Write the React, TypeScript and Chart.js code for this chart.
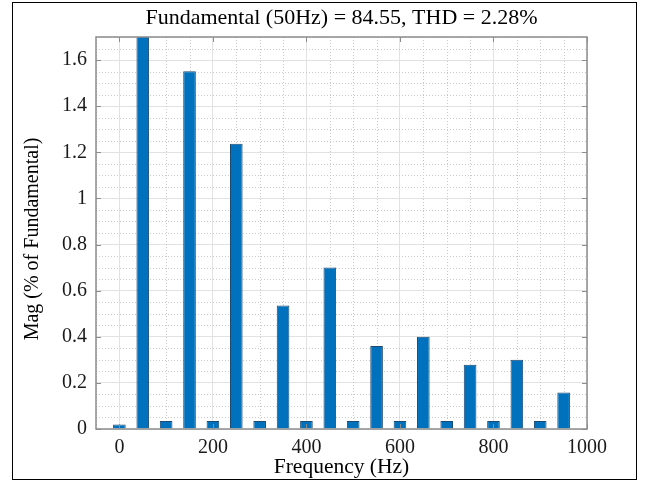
import React, { useEffect, useRef } from "react";
import { Chart, registerables } from "chart.js";

Chart.register(...registerables);

const frequencies = [0, 50, 100, 150, 200, 250, 300, 350, 400, 450, 500, 550, 600, 650, 700, 750, 800, 850, 900, 950];
const magnitudes = [0.02, 100, 0.035, 1.552, 0.035, 1.237, 0.035, 0.536, 0.035, 0.7, 0.035, 0.36, 0.035, 0.4, 0.035, 0.279, 0.035, 0.3, 0.035, 0.158];
const xTickValues = [0, 200, 400, 600, 800, 1000];
const yTickValues = [0, 0.2, 0.4, 0.6, 0.8, 1, 1.2, 1.4, 1.6];
const yTickLabels = ["0", "0.2", "0.4", "0.6", "0.8", "1", "1.2", "1.4", "1.6"];
const titleText = "Fundamental (50Hz) = 84.55, THD = 2.28%";
const xLabelText = "Frequency (Hz)";
const yLabelText = "Mag (% of Fundamental)";

const FONT = '"Liberation Serif", "Times New Roman", serif';

const decor = {
  id: "decor",
  beforeDatasetsDraw(chart: any) {
    const { ctx, chartArea: a, scales } = chart;
    const x = scales.x;
    const y = scales.y;
    ctx.save();
    ctx.strokeStyle = "#c9c9c9";
    ctx.lineWidth = 1;
    ctx.setLineDash([1, 2]);
    for (let v = -50; v <= 1000; v += 50) {
      if (v % 200 === 0) continue;
      const px = Math.round(x.getPixelForValue(v)) + 0.5;
      ctx.beginPath();
      ctx.moveTo(px, a.top);
      ctx.lineTo(px, a.bottom);
      ctx.stroke();
    }
    for (let k = 1; k <= 34; k++) {
      if (k % 4 === 0) continue;
      const py = Math.round(y.getPixelForValue(k * 0.05)) + 0.5;
      ctx.beginPath();
      ctx.moveTo(a.left, py);
      ctx.lineTo(a.right, py);
      ctx.stroke();
    }
    ctx.restore();
  },
  afterDatasetsDraw(chart: any) {
    const { ctx, chartArea: a, scales } = chart;
    const x = scales.x;
    const y = scales.y;
    ctx.save();
    ctx.strokeStyle = "#8c8c8c";
    ctx.lineWidth = 1.5;
    ctx.strokeRect(a.left, a.top, a.right - a.left, a.bottom - a.top);
    ctx.lineWidth = 1;
    const tl = 5;
    for (const v of xTickValues) {
      const px = Math.round(x.getPixelForValue(v)) + 0.5;
      ctx.beginPath();
      ctx.moveTo(px, a.bottom);
      ctx.lineTo(px, a.bottom - tl);
      ctx.moveTo(px, a.top);
      ctx.lineTo(px, a.top + tl);
      ctx.stroke();
    }
    for (const v of yTickValues) {
      const py = Math.round(y.getPixelForValue(v)) + 0.5;
      ctx.beginPath();
      ctx.moveTo(a.left, py);
      ctx.lineTo(a.left + tl, py);
      ctx.moveTo(a.right, py);
      ctx.lineTo(a.right - tl, py);
      ctx.stroke();
    }
    ctx.restore();
  },
  afterDraw(chart: any) {
    const { ctx, chartArea: a } = chart;
    ctx.save();
    ctx.fillStyle = "#000";
    ctx.textAlign = "center";
    ctx.textBaseline = "middle";
    ctx.font = `22px ${FONT}`;
    ctx.fillText(titleText, (a.left + a.right) / 2, 18);
    ctx.font = `21.5px ${FONT}`;
    ctx.fillText(xLabelText, (a.left + a.right) / 2, 467);
    ctx.save();
    ctx.translate(33, 239);
    ctx.rotate(-Math.PI / 2);
    ctx.font = `20px ${FONT}`;
    ctx.fillText(yLabelText, 0, 0);
    ctx.restore();
    ctx.strokeStyle = "#000";
    ctx.lineWidth = 1;
    ctx.strokeRect(12.5, 2.5, 624, 477);
    ctx.restore();
  },
};

export default function App() {
  const canvasRef = useRef<HTMLCanvasElement | null>(null);

  useEffect(() => {
    document.body.style.margin = "0";
    const canvas = canvasRef.current;
    if (!canvas) return;
    const chart = new Chart(canvas, {
      type: "bar",
      data: {
        datasets: [
          {
            data: frequencies.map((f, i) => ({ x: f, y: magnitudes[i] })),
            backgroundColor: "#0072BD",
            borderColor: "#1d4a72",
            borderWidth: 1,
            categoryPercentage: 1,
            barPercentage: 0.54,
          },
        ],
      },
      plugins: [decor],
      options: {
        responsive: false,
        devicePixelRatio: 1,
        animation: false,
        events: [],
        layout: { padding: { left: 0, right: 62, top: 37, bottom: 0 } },
        plugins: {
          legend: { display: false },
          title: { display: false },
          tooltip: { enabled: false },
        },
        scales: {
          x: {
            type: "linear",
            min: -50,
            max: 1000,
            offset: false,
            afterFit: (s: any) => {
              s.height = 53;
            },
            afterBuildTicks: (s: any) => {
              s.ticks = xTickValues.map((v) => ({ value: v }));
            },
            grid: { offset: false, color: "#e2e2e2", lineWidth: 1, drawTicks: false },
            border: { display: false },
            ticks: {
              autoSkip: false,
              maxRotation: 0,
              padding: 7,
              color: "#1a1a1a",
              font: { family: FONT, size: 20 },
              callback: (v: any) => String(v),
            },
          },
          y: {
            min: 0,
            max: 1.7,
            afterFit: (s: any) => {
              s.width = 96;
            },
            afterBuildTicks: (s: any) => {
              s.ticks = yTickValues.map((v) => ({ value: v }));
            },
            grid: { color: "#e2e2e2", lineWidth: 1, drawTicks: false },
            border: { display: false },
            ticks: {
              autoSkip: false,
              padding: 9,
              color: "#1a1a1a",
              font: { family: FONT, size: 20 },
              callback: (v: any) => {
                const i = yTickValues.findIndex((t) => Math.abs(t - v) < 1e-9);
                return i >= 0 ? yTickLabels[i] : "";
              },
            },
          },
        },
      },
    });
    return () => chart.destroy();
  }, []);

  return (
    <div style={{ position: "absolute", left: 0, top: 0, width: 649, height: 482, background: "#fff" }}>
      <canvas ref={canvasRef} width={649} height={482} />
    </div>
  );
}
